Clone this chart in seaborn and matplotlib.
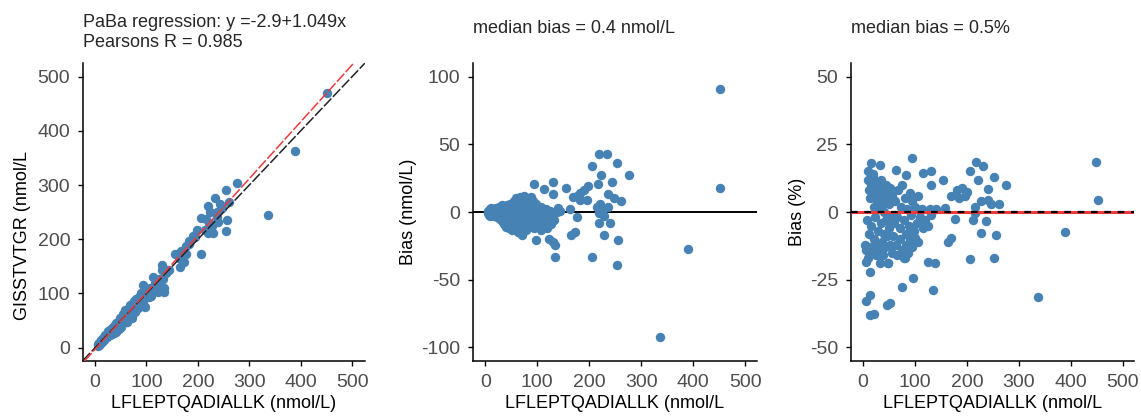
import matplotlib
matplotlib.use("Agg")
import matplotlib.pyplot as plt
import seaborn as sns
import pandas as pd

# ---------------- data ----------------
# Panel 1 & 2: reference method (x), candidate method (y), absolute bias
ref = [5, 6, 7, 8, 9, 10, 10, 11, 12, 13, 14, 15, 16, 17, 18, 19, 20, 21, 22, 23,
       24, 25, 26, 27, 28, 29, 30, 31, 32, 33, 34, 35, 36, 37, 38, 39, 40, 41, 42, 43,
       44, 45, 46, 47, 48, 49, 50, 51, 52, 53, 55, 56, 57, 58, 59, 60, 61, 62, 63, 64,
       65, 66, 67, 68, 69, 70, 71, 72, 73, 74, 75, 76, 77, 78, 79, 80, 81, 82, 83, 84,
       85, 86, 87, 88, 89, 90, 91, 92, 94, 95, 96, 97, 98, 100, 102, 104, 105, 107, 108, 110,
       112, 113, 115, 117, 119, 120, 122, 123, 125, 127, 129, 130, 131, 131, 133, 135, 135, 138, 140, 143,
       94, 155, 168, 176, 182, 190, 198, 182, 195, 163, 176, 165, 173, 206, 206, 219, 234, 223, 243, 216,
       237, 247, 261, 219, 240, 229, 256, 254, 254, 277, 221, 214, 224, 218, 237, 228, 226, 337, 389, 452,
       452]
cand = [4, 7, 5, 8, 11, 9, 7, 12, 15, 11, 14, 14, 18, 14, 19, 18, 23, 19, 22, 19,
        26, 24, 30, 24, 29, 24, 33, 30, 37, 26, 34, 32, 40, 28, 40, 37, 29, 46, 37, 44,
        36, 48, 34, 45, 54, 43, 50, 38, 56, 50, 63, 47, 59, 54, 69, 48, 66, 61, 48, 71,
        59, 69, 78, 58, 67, 76, 54, 81, 69, 75, 87, 68, 81, 65, 78, 90, 75, 89, 85, 73,
        94, 83, 92, 80, 100, 90, 86, 100, 82, 98, 95, 76, 104, 93, 104, 94, 102, 111, 95, 110,
        107, 130, 106, 119, 107, 118, 102, 117, 126, 118, 126, 108, 144, 153, 127, 111, 102, 138, 143, 144,
        115, 173, 179, 188, 196, 206, 217, 191, 204, 165, 172, 148, 158, 173, 240, 262, 277, 250, 265, 237,
        250, 257, 269, 211, 232, 212, 235, 215, 290, 304, 227, 218, 224, 217, 241, 225, 228, 245, 362, 543,
        470]
bias_abs = [-1, 1, -2, 0, 2, -1, -3, 1, 3, -2, 0, -1, 2, -3, 1, -1, 3, -2, 0, -4,
            2, -1, 4, -3, 1, -5, 3, -1, 5, -7, 0, -3, 4, -9, 2, -2, -11, 5, -5, 1,
            -8, 3, -12, -2, 6, -6, 0, -13, 4, -3, 8, -9, 2, -4, 10, -12, 5, -1, -15, 7,
            -6, 3, 11, -10, -2, 6, -17, 9, -4, 1, 12, -8, 4, -13, -1, 10, -6, 7, 2, -11,
            9, -3, 5, -8, 11, 0, -5, 8, -12, 3, -1, -21, 6, -7, 2, -10, -3, 4, -13, 0,
            -5, 17, -9, 2, -12, -2, -20, -6, 1, -9, -3, -22, 13, 22, -6, -24, -33, 0, 3, 1,
            21, 18, 11, 12, 14, 16, 19, 9, 9, 2, -4, -17, -15, -33, 34, 43, 43, 27, 22, 21,
            13, 10, 8, -8, -8, -17, -21, -39, 36, 27, 6, 4, 0, -1, 4, -3, 2, -92, -27, 91,
            18]

# Panel 3: reference method (x) and percentage bias
ref_pct = [10, 12, 14, 16, 18, 20, 22, 24, 26, 28, 30, 32, 34, 36, 38, 40, 42, 44, 46, 48,
           50, 52, 54, 56, 4, 6, 8, 10, 12, 14, 16, 18, 20, 22, 24, 26, 28, 30, 32, 34,
           36, 38, 40, 42, 44, 46, 48, 50, 52, 55, 58, 60, 62, 65, 68, 70, 72, 75, 78, 80,
           82, 85, 88, 90, 92, 95, 98, 100, 103, 106, 110, 113, 116, 120, 124, 128, 131, 63, 66, 70,
           74, 78, 82, 86, 90, 95, 94, 15, 32, 10, 19, 64, 83, 115, 131, 154, 131, 218, 231, 205,
           253, 240, 221, 276, 180, 190, 196, 200, 185, 170, 228, 240, 247, 261, 215, 176, 141, 157, 212, 215,
           237, 228, 256, 205, 253, 170, 164, 124, 138, 135, 96, 74, 13, 6, 13, 21, 45, 51, 13, 6,
           48, 99, 106, 80, 337, 388, 449, 452]
bias_pct = [12, 8, 5, 10, 13, 2, 7, 11, 4, 9, 1, 6, 12, 3, 8, 0, 5, 10, -1, 7,
            3, 9, -2, 6, -12, -14, -3, -17, -8, -13, -5, -15, -10, -2, -16, -12, -7, -14, -19, -4,
            -11, -16, -8, -13, -3, -9, -19, -6, -12, -15, -9, -4, 4, -2, 8, -6, 2, 10, -3, 5,
            -8, 1, -5, 7, -1, 4, -7, 2, -4, 6, -2, 1, -6, -3, -5, 1, -1, -12, -16, -10,
            -14, -17, -12, -15, -10, -13, 20, 18, 17.5, 15, 14, 15.6, 13.7, 14.3, 15, 12, 10, 18.3, 17, 15,
            13, 8.4, 12, 9.8, 8, 9, 6, 7.5, 5, 6, 4, 4.5, 3, 3, 2, -2.5, 1, 1.5, -3, -0.5,
            -3.5, -7.8, -8.5, -17.5, -17, -9.5, -11, -18.5, -19, -28.7, -24.5, -27.5, -30.6, -33, -38, -37.6, -34.3, -33.6, -22, -18.3,
            -19, -9.6, -11, -17, -31.2, -7.2, 18.3, 4.5]

# summary statistics shown on the chart
paba_intercept = -2.9
paba_slope = 1.049
pearson_r = 0.985
median_bias_abs = 0.4
median_bias_pct = 0.5

titles = [
    f"PaBa regression: y ={paba_intercept}+{paba_slope}x\nPearsons R = {pearson_r}",
    f"median bias = {median_bias_abs} nmol/L",
    f"median bias = {median_bias_pct}%",
]
xlabels = ["LFLEPTQADIALLK (nmol/L)", "LFLEPTQADIALLK (nmol/L", "LFLEPTQADIALLK (nmol/L"]
ylabels = ["GISSTVTGR (nmol/L", "Bias (nmol/L)", "Bias (%)"]
xticks = [0, 100, 200, 300, 400, 500]
yticks = [[0, 100, 200, 300, 400, 500], [-100, -50, 0, 50, 100], [-50, -25, 0, 25, 50]]

df_main = pd.DataFrame({"ref": ref, "cand": cand, "bias": bias_abs})
df_pct = pd.DataFrame({"ref": ref_pct, "pct": bias_pct})

# ---------------- style ----------------
sns.set_style("ticks")
plt.rcParams["font.family"] = ["Liberation Sans", "DejaVu Sans"]
plt.rcParams["axes.unicode_minus"] = False

POINT = "#4682B4"
TICK_C = "#4D4D4D"
FS = 14
S = 46

fig = plt.figure(figsize=(11.41, 4.19), dpi=100)
bottom, height = 0.1384, 0.7112
ax1 = fig.add_axes([0.0725, bottom, 0.2474, height])
ax2 = fig.add_axes([0.4143, bottom, 0.2489, height])
ax3 = fig.add_axes([0.7456, bottom, 0.2483, height])
axes = [ax1, ax2, ax3]

# Panel 1
sns.scatterplot(data=df_main, x="ref", y="cand", ax=ax1, color=POINT, s=S,
                linewidth=0, alpha=1, zorder=2)
ax1.axline((0, 0), slope=1, color="#222222", lw=1.1, ls=(0, (7, 1.5)), zorder=3)
ax1.axline((0, paba_intercept), slope=paba_slope, color="#F0393B", lw=1.1,
           ls=(0, (7, 1.5)), zorder=3)
ax1.set_xlim(-24, 525)
ax1.set_ylim(-24.5, 525)

# Panel 2
ax2.axhline(0, color="black", lw=1.4, zorder=1)
sns.scatterplot(data=df_main, x="ref", y="bias", ax=ax2, color=POINT, s=S,
                linewidth=0, alpha=1, zorder=2)
ax2.set_xlim(-24, 522)
ax2.set_ylim(-110, 110)

# Panel 3
sns.scatterplot(data=df_pct, x="ref", y="pct", ax=ax3, color=POINT, s=S,
                linewidth=0, alpha=1, zorder=2)
ax3.axhline(0, color="#F0393B", lw=2.2, zorder=3)
ax3.axhline(0, color="black", lw=1.6, ls=(0, (3, 3)), zorder=4)
ax3.set_xlim(-24, 522)
ax3.set_ylim(-55, 55)

for i, ax in enumerate(axes):
    sns.despine(ax=ax)
    ax.set_xticks(xticks)
    ax.set_yticks(yticks[i])
    ax.tick_params(axis="both", labelsize=FS, colors="black", labelcolor=TICK_C,
                   length=3.5, width=1.0, pad=5.5)
    for sp in ("left", "bottom"):
        ax.spines[sp].set_linewidth(1.1)
        ax.spines[sp].set_color("black")
    ax.set_xlabel(xlabels[i], fontsize=13, color="black", labelpad=3)
    ax.set_ylabel(ylabels[i], fontsize=13, color="black", labelpad=3)

ax1.yaxis.set_label_coords(-0.185, 0.42)

# titles, left aligned with the panels
fig.text(0.0725, 0.888, titles[0], fontsize=13, ha="left", va="baseline",
         linespacing=1.25)
fig.text(0.4143, 0.921, titles[1], fontsize=13, ha="left", va="baseline")
fig.text(0.7456, 0.921, titles[2], fontsize=13, ha="left", va="baseline")

fig.savefig("out.png", dpi=100, facecolor="white")
